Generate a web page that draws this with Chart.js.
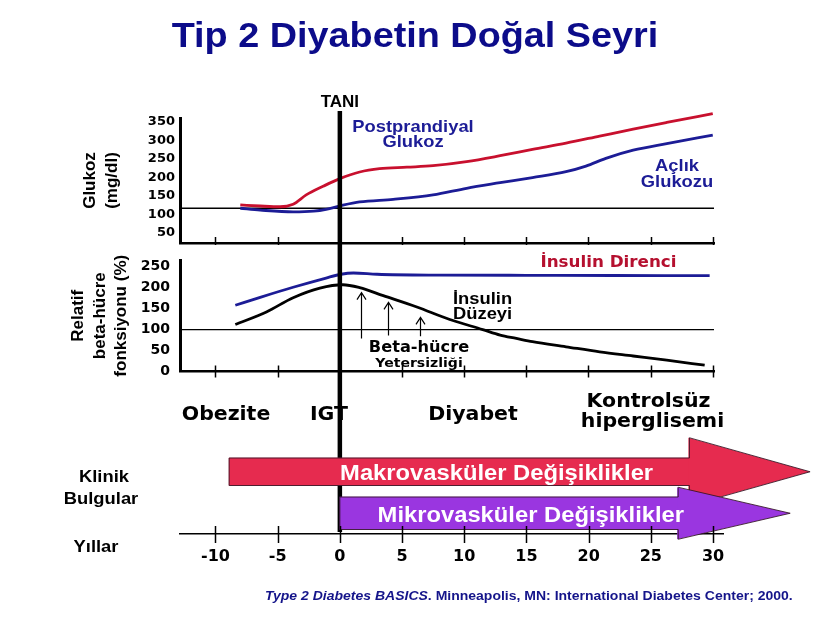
<!DOCTYPE html>
<html>
<head>
<meta charset="utf-8">
<script src="https://cdn.jsdelivr.net/npm/chart.js@4.4.0/dist/chart.umd.min.js"></script>
<style>
html,body{margin:0;padding:0;background:#fff;}
#wrap{position:relative;width:834px;height:618px;overflow:hidden;background:#fff;}
#wrap canvas{position:absolute;left:0;top:0;}
</style>
</head>
<body>
<div id="wrap">
<canvas id="c1" width="834" height="618"></canvas>
<canvas id="c2" width="834" height="618"></canvas>
<canvas id="c3" width="834" height="618"></canvas>
</div>
<script>
// ---------------- data ----------------
const yearTicks = [-10, -5, 0, 5, 10, 15, 20, 25, 30];
const yearTickLabels = ['-10', '-5', '0', '5', '10', '15', '20', '25', '30'];
const glucoseTicks = [50, 100, 150, 200, 250, 300, 350];
const betaTicks = [0, 50, 100, 150, 200, 250];

// Top panel: glucose (mg/dl)
const postprandialYears = [-8.0, -6.4, -4.8, -3.75, -2.7, -1.3, 0, 1.6, 3.2, 5.4, 7.5, 10.2, 12.9, 15.5, 18.2, 20.9, 23.6, 26.3, 30];
const postprandialGlucose = [126, 123, 121, 128, 153, 177, 197, 215, 224, 228, 232, 243, 259, 276, 293, 312, 331, 349, 373];
const fastingYears = [-8.0, -6.4, -3.75, -2.1, -1.1, 0.1, 1.6, 4.3, 7.5, 10.2, 12.9, 15.5, 18.2, 19.8, 21.4, 23.6, 26.3, 30];
const fastingGlucose = [117, 112, 107, 109, 114, 124, 134, 141, 153, 171, 186, 200, 216, 231, 252, 274, 292, 315];
const glucoseThreshold = 117;

// Bottom panel: relative beta-cell function (%)
const resistanceYears = [-8.4, -6.4, -3.75, -1.1, 0.1, 1.1, 3.0, 8.0, 15, 22, 29.75];
const resistanceValues = [158, 177, 201, 223, 232, 235, 232, 230, 229.5, 229, 228.5];
const insulinYears = [-8.4, -5.9, -3.75, -1.6, 0.25, 1.6, 3.5, 6.2, 8.85, 11.5, 12.9, 14.2, 15.5, 18.2, 20.9, 23.6, 26.3, 29.35];
const insulinValues = [112, 142, 176, 199, 207, 200, 181, 154, 124, 100, 87, 79, 71, 59, 47, 37, 27, 15];
const betaBaseline = 100;
const betaArrowYears = [1.7, 3.85, 6.45];
const betaArrowFrom = [79, 86, 84];
const betaArrowTo = [188, 165, 129];

// Clinical findings (years)
const clinicalCategories = ['Makrovasküler Değişiklikler', 'Mikrovasküler Değişiklikler'];
const clinicalStart = [-8.9, 0];
const clinicalEnd = [28.1, 27.2];
const clinicalTip = [37.8, 36.2];

// ---------------- style ----------------
const ARIAL = '"Liberation Sans", Arial, sans-serif';
const VERD = '"DejaVu Sans", Verdana, sans-serif';
const NAVY = '#1c1c96';
const RED = '#c8102e';
const X_MIN = -12.85, X_MAX_P = 30.1, X_MAX_T = 30.8;

function txt(ctx, s, x, y, font, color, align, sx) {
  ctx.save();
  ctx.font = font; ctx.fillStyle = color; ctx.textAlign = align || 'center'; ctx.textBaseline = 'alphabetic';
  ctx.translate(x, y); ctx.scale(sx || 1, 1); ctx.fillText(s, 0, 0);
  ctx.restore();
}
function pts(xs, ys) { return xs.map((x, i) => ({x: x, y: ys[i]})); }

const crossTicks = {
  id: 'crossTicks',
  afterDraw(chart, args, o) {
    const sx = chart.scales.x, ctx = chart.ctx, y = chart.chartArea.bottom;
    ctx.save(); ctx.strokeStyle = '#000'; ctx.lineWidth = o.width || 1.5;
    yearTicks.forEach(v => {
      const x = Math.round(sx.getPixelForValue(v)) + 0.5;
      ctx.beginPath(); ctx.moveTo(x, y - o.up); ctx.lineTo(x, y + o.down); ctx.stroke();
    });
    ctx.restore();
  }
};

function xScale(max, showLabels) {
  return {
    type: 'linear', min: X_MIN, max: max,
    afterBuildTicks: s => { s.ticks = yearTicks.map(v => ({value: v})); },
    ticks: showLabels ? {
      display: true, padding: 13, color: '#000', maxRotation: 0, autoSkip: false,
      font: {family: VERD, size: 16, weight: 'bold'},
      callback: (v) => yearTickLabels[yearTicks.indexOf(v)]
    } : {display: false},
    grid: {display: false, drawTicks: false},
    border: {display: true, width: showLabels ? 1.5 : 2.5, color: '#000'},
    afterFit: s => { s.height = showLabels ? 40 : 0; }
  };
}
const base = {responsive: false, animation: false, events: [], devicePixelRatio: 1};

// ---------------- chart 1: glucose ----------------
const notes1 = {
  id: 'notes1',
  afterDraw(chart) {
    const c = chart.ctx, f = 'bold 17px ' + ARIAL;
    txt(c, 'Postprandiyal', 413, 131.5, f, NAVY, 'center', 1.08);
    txt(c, 'Glukoz', 413, 147, f, NAVY, 'center', 1.08);
    txt(c, 'Açlık', 677, 171, f, NAVY, 'center', 1.08);
    txt(c, 'Glukozu', 677, 186.5, f, NAVY, 'center', 1.08);
  }
};
new Chart(document.getElementById('c1'), {
  type: 'line',
  data: {datasets: [
    {data: pts(postprandialYears, postprandialGlucose), borderColor: RED, borderWidth: 2.8, pointRadius: 0, cubicInterpolationMode: 'monotone', clip: false},
    {data: pts(fastingYears, fastingGlucose), borderColor: NAVY, borderWidth: 2.8, pointRadius: 0, cubicInterpolationMode: 'monotone', clip: false},
    {data: [{x: X_MIN, y: glucoseThreshold}, {x: X_MAX_P, y: glucoseThreshold}], borderColor: '#000', borderWidth: 1.3, pointRadius: 0}
  ]},
  options: Object.assign({}, base, {
    layout: {padding: {left: 0, top: 118, right: 120, bottom: 375}},
    plugins: {legend: {display: false}, tooltip: {enabled: false}, crossTicks: {up: 6, down: 2}},
    scales: {
      x: xScale(X_MAX_P, false),
      y: {
        min: 23, max: 361,
        afterBuildTicks: s => { s.ticks = glucoseTicks.map(v => ({value: v})); },
        ticks: {color: '#000', padding: 5, font: {family: VERD, size: 13, weight: 'bold'}},
        grid: {display: false, drawTicks: false},
        border: {display: true, width: 3, color: '#000'},
        title: {display: true, text: ['Glukoz', '(mg/dl)'], color: '#000',
          font: {family: ARIAL, size: 17, weight: 'bold', lineHeight: 1.25}, padding: {top: 80, bottom: 0}},
        afterFit: s => { s.width = 180; }
      }
    }
  }),
  plugins: [crossTicks, notes1]
});

// ---------------- chart 2: beta-cell function ----------------
const notes2 = {
  id: 'notes2',
  afterDatasetsDraw(chart) {
    const c = chart.ctx, sx = chart.scales.x, sy = chart.scales.y;
    c.save(); c.strokeStyle = '#000'; c.lineWidth = 1.2;
    betaArrowYears.forEach((yr, i) => {
      const x = Math.round(sx.getPixelForValue(yr)) + 0.5;
      const y0 = sy.getPixelForValue(betaArrowFrom[i]), y1 = sy.getPixelForValue(betaArrowTo[i]);
      c.beginPath(); c.moveTo(x, y0); c.lineTo(x, y1);
      c.moveTo(x - 4.5, y1 + 7); c.lineTo(x, y1); c.lineTo(x + 4.5, y1 + 7); c.stroke();
    });
    c.restore();
  },
  afterDraw(chart) {
    const c = chart.ctx;
    txt(c, 'İnsulin Direnci', 608.5, 266.5, 'bold 15.5px ' + VERD, '#b5102f', 'center', 1.08);
    txt(c, 'İnsulin', 453, 303.5, 'bold 17px ' + ARIAL, '#000', 'left', 1.08);
    txt(c, 'Düzeyi', 453, 318.5, 'bold 17px ' + ARIAL, '#000', 'left', 1.08);
    txt(c, 'Beta-hücre', 419, 351.5, 'bold 15px ' + VERD, '#000', 'center', 1.08);
    txt(c, 'Yetersizliği', 419, 366.5, 'bold 13px ' + VERD, '#000', 'center', 1.08);
  }
};
new Chart(document.getElementById('c2'), {
  type: 'line',
  data: {datasets: [
    {data: pts(resistanceYears, resistanceValues), borderColor: NAVY, borderWidth: 2.8, pointRadius: 0, cubicInterpolationMode: 'monotone', clip: false},
    {data: pts(insulinYears, insulinValues), borderColor: '#000', borderWidth: 2.8, pointRadius: 0, cubicInterpolationMode: 'monotone', clip: false},
    {data: [{x: X_MIN, y: betaBaseline}, {x: X_MAX_P, y: betaBaseline}], borderColor: '#000', borderWidth: 1.3, pointRadius: 0}
  ]},
  options: Object.assign({}, base, {
    layout: {padding: {left: 0, top: 260, right: 120, bottom: 246.5}},
    plugins: {legend: {display: false}, tooltip: {enabled: false}, crossTicks: {up: 6, down: 6}},
    scales: {
      x: xScale(X_MAX_P, false),
      y: {
        min: 0, max: 266,
        afterBuildTicks: s => { s.ticks = betaTicks.map(v => ({value: v})); },
        ticks: {color: '#000', padding: 10, font: {family: VERD, size: 14, weight: 'bold'}},
        grid: {display: false, drawTicks: false},
        border: {display: true, width: 3, color: '#000'},
        title: {display: true, text: ['Relatif', 'beta-hücre', 'fonksiyonu (%)'], color: '#000',
          font: {family: ARIAL, size: 17, weight: 'bold', lineHeight: 1.25}, padding: {top: 68, bottom: 0}},
        afterFit: s => { s.width = 180; }
      }
    }
  }),
  plugins: [crossTicks, notes2]
});

// ---------------- chart 3: timeline & clinical findings ----------------
const arrowFill = ['#e62b4f', '#9a36e0'];
const arrowThick = [27.5, 32.5];
const arrowHeadHalf = [34, 26];
const arrowTextCenter = [12.6, 15.35];

const notes3 = {
  id: 'notes3',
  beforeDatasetsDraw(chart) {
    const c = chart.ctx, x = chart.scales.x.getPixelForValue(0);
    c.save(); c.strokeStyle = '#000'; c.lineWidth = 4.5;
    c.beginPath(); c.moveTo(x, 111); c.lineTo(x, chart.chartArea.bottom - 2); c.stroke();
    c.restore();
  },
  afterDatasetsDraw(chart) {
    const c = chart.ctx, sx = chart.scales.x;
    chart.data.datasets.forEach((ds, i) => {
      const el = chart.getDatasetMeta(i).data[i];
      const p = el.getProps(['x', 'y', 'base', 'height'], true);
      const tip = sx.getPixelForValue(clinicalTip[i]);
      const H = arrowHeadHalf[i], h = p.height / 2;
      c.save();
      c.fillStyle = arrowFill[i];
      c.beginPath(); c.moveTo(p.x - 1, p.y - H); c.lineTo(tip, p.y); c.lineTo(p.x - 1, p.y + H); c.closePath(); c.fill();
      c.strokeStyle = 'rgba(50,20,35,0.85)'; c.lineWidth = 1;
      c.beginPath();
      c.moveTo(p.base, p.y - h); c.lineTo(p.x, p.y - h); c.lineTo(p.x, p.y - H); c.lineTo(tip, p.y);
      c.lineTo(p.x, p.y + H); c.lineTo(p.x, p.y + h); c.lineTo(p.base, p.y + h); c.closePath(); c.stroke();
      c.restore();
      txt(c, chart.data.labels[i], sx.getPixelForValue(arrowTextCenter[i]), p.y + 8.3, 'bold 22px ' + ARIAL, '#fff', 'center', 1.08);
    });
  },
  afterDraw(chart) {
    const c = chart.ctx, x0 = chart.scales.x.getPixelForValue(0);
    txt(c, 'Tip 2 Diyabetin Doğal Seyri', 415, 47, 'bold 35px ' + ARIAL, '#0c0c8a', 'center', 1.08);
    txt(c, 'TANI', x0, 106.5, 'bold 17px ' + ARIAL, '#000', 'center', 1);
    const fs = 'bold 19.5px ' + VERD;
    txt(c, 'Obezite', 226, 419.5, fs, '#000', 'center', 1.05);
    txt(c, 'IGT', 329, 419.5, fs, '#000', 'center', 1.05);
    txt(c, 'Diyabet', 473, 419.5, fs, '#000', 'center', 1.05);
    txt(c, 'Kontrolsüz', 648.5, 406.5, fs, '#000', 'center', 1.05);
    txt(c, 'hiperglisemi', 652.5, 426.5, fs, '#000', 'center', 1.05);
    const fa = 'bold 17px ' + ARIAL;
    txt(c, 'Klinik', 104, 481.5, fa, '#000', 'center', 1.08);
    txt(c, 'Bulgular', 101, 503.5, fa, '#000', 'center', 1.08);
    txt(c, 'Yıllar', 96, 551.5, fa, '#000', 'center', 1.08);
    // citation
    const p1 = 'Type 2 Diabetes BASICS', p2 = '. Minneapolis, MN: International Diabetes Center; 2000.';
    const f1 = 'italic bold 12.5px ' + ARIAL, f2 = 'bold 12.5px ' + ARIAL, sc = 1.12;
    c.save(); c.font = f1; const w1 = c.measureText(p1).width * sc; c.restore();
    txt(c, p1, 265, 599.5, f1, '#14148a', 'left', sc);
    txt(c, p2, 265 + w1, 599.5, f2, '#14148a', 'left', sc);
  }
};
new Chart(document.getElementById('c3'), {
  type: 'bar',
  data: {
    labels: clinicalCategories,
    datasets: clinicalCategories.map((lab, i) => ({
      label: lab,
      data: clinicalCategories.map((_, j) => j === i ? [clinicalStart[i], clinicalEnd[i]] : null),
      backgroundColor: arrowFill[i], borderWidth: 0, barThickness: arrowThick[i], grouped: false, clip: false
    }))
  },
  options: Object.assign({}, base, {
    indexAxis: 'y',
    layout: {padding: {left: 180, top: 451, right: 111, bottom: 44}},
    plugins: {legend: {display: false}, tooltip: {enabled: false}, crossTicks: {up: 8, down: 9}},
    scales: {
      x: xScale(X_MAX_T, true),
      y: {display: false, offset: true}
    }
  }),
  plugins: [crossTicks, notes3]
});
</script>
</body>
</html>
